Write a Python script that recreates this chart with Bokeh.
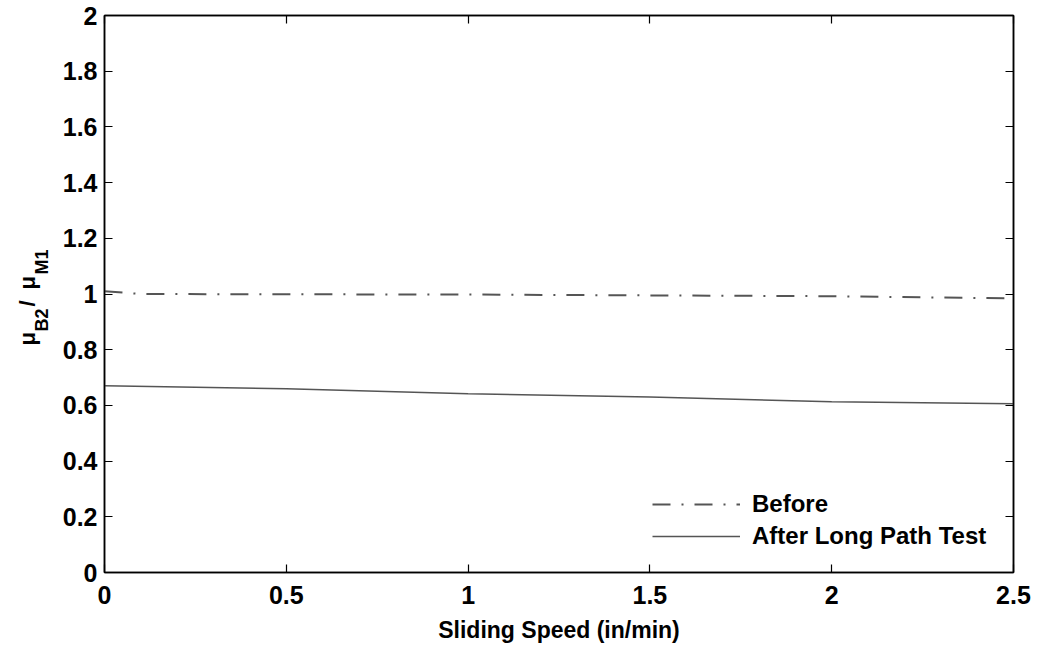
import math
from bokeh.plotting import figure
from bokeh.layouts import row
from bokeh.models import (Range1d, LinearAxis, FixedTicker, Legend, LegendItem)
from bokeh.core.properties import value
from bokeh.embed import file_html
from bokeh.resources import INLINE

# ---- data ----
speed_before = [0.0, 0.1, 0.5, 1.0, 1.5, 2.0, 2.5]
ratio_before = [1.01, 1.0, 0.999, 0.998, 0.995, 0.992, 0.984]
speed_after = [0.0, 0.5, 1.0, 1.5, 2.0, 2.5]
ratio_after = [0.671, 0.660, 0.642, 0.630, 0.613, 0.606]
x_ticks = [0, 0.5, 1, 1.5, 2, 2.5]
y_ticks = [0, 0.2, 0.4, 0.6, 0.8, 1, 1.2, 1.4, 1.6, 1.8, 2]
series_names = ["Before", "After Long Path Test"]
x_title = "Sliding Speed (in/min)"
y_title_parts = ["\u03bc", "B2", "/", "\u03bc", "M1"]

W, H = 1039, 647
LW = 50                      # width of the y-title strip
FL, FR, FT, FB = 104, 1013, 15, 572
FONT = "Liberation Sans"

p = figure(width=W - LW, height=H, output_backend="svg", toolbar_location=None,
           x_range=Range1d(0, 2.5), y_range=Range1d(0, 2),
           min_border_left=FL - LW, min_border_right=W - FR,
           min_border_top=FT, min_border_bottom=H - FB,
           x_axis_location=None, y_axis_location=None)
p.grid.visible = False
p.outline_line_color = "black"
p.outline_line_width = 1.5


def style_axis(ax, labels=True):
    ax.major_tick_in = 8
    ax.major_tick_out = 0
    ax.minor_tick_line_color = None
    ax.axis_line_color = "black"
    ax.axis_line_width = 1.5
    ax.major_tick_line_color = "black"
    ax.major_tick_line_width = 1.2
    ax.major_label_text_font = FONT
    ax.major_label_text_font_size = "25px"
    ax.major_label_text_font_style = "bold"
    ax.major_label_text_color = "black"
    if not labels:
        ax.major_label_text_font_size = "0px"
        ax.major_label_text_color = None


xb = LinearAxis(ticker=FixedTicker(ticks=x_ticks))
style_axis(xb)
xb.major_label_standoff = 13
xb.axis_label = x_title
xb.axis_label_text_font = FONT
xb.axis_label_text_font_size = "23px"
xb.axis_label_text_font_style = "bold"
xb.axis_label_text_color = "black"
xb.axis_label_standoff = 10
p.add_layout(xb, "below")

xa = LinearAxis(ticker=FixedTicker(ticks=x_ticks))
style_axis(xa, labels=False)
p.add_layout(xa, "above")

yl = LinearAxis(ticker=FixedTicker(ticks=y_ticks))
style_axis(yl)
yl.major_label_standoff = 7
yl.major_label_overrides = {t: ("%g" % t) for t in y_ticks}
p.add_layout(yl, "left")

yr = LinearAxis(ticker=FixedTicker(ticks=y_ticks))
style_axis(yr, labels=False)
p.add_layout(yr, "right")

r1 = p.line(speed_before, ratio_before, line_color="#555555", line_width=2,
            line_dash="18 11 2 11")
r2 = p.line(speed_after, ratio_after, line_color="#555555", line_width=1.5)

legend = Legend(items=[LegendItem(label=series_names[0], renderers=[r1]),
                       LegendItem(label=series_names[1], renderers=[r2])],
                location=(548, 22), orientation="vertical",
                glyph_width=88, glyph_height=24, label_height=24,
                label_standoff=12, spacing=4, padding=0,
                border_line_color=None, background_fill_alpha=0,
                label_text_font=FONT, label_text_font_size="24px",
                label_text_font_style="bold", label_text_color="black")
p.add_layout(legend, "center")

# ---- y-axis title strip (mu with subscripts); frame aligned with main plot ----
t = figure(width=LW, height=H, output_backend="svg", toolbar_location=None,
           title=None,
           x_range=Range1d(0, LW), y_range=Range1d(H - FB, H - FT),
           min_border_left=0, min_border_right=0,
           min_border_top=FT, min_border_bottom=H - FB,
           x_axis_location=None, y_axis_location=None)
t.grid.visible = False
t.outline_line_color = None

# (start pixel y from top, baseline pixel x, font size)
layout_parts = [(345, 27, "22px"), (331, 41, "18px"), (306, 27, "22px"),
                (289, 27, "22px"), (274, 41, "18px")]
for part, (py, bx, fs) in zip(y_title_parts, layout_parts):
    t.text(x=[bx], y=[H - py], text=[part], angle=math.pi / 2,
           text_align="left", text_baseline="alphabetic",
           text_font=value(FONT), text_font_size=fs,
           text_font_style="bold", text_color="black")

layout = row(t, p, spacing=0)
open("out.html", "w").write(file_html(layout, INLINE))
